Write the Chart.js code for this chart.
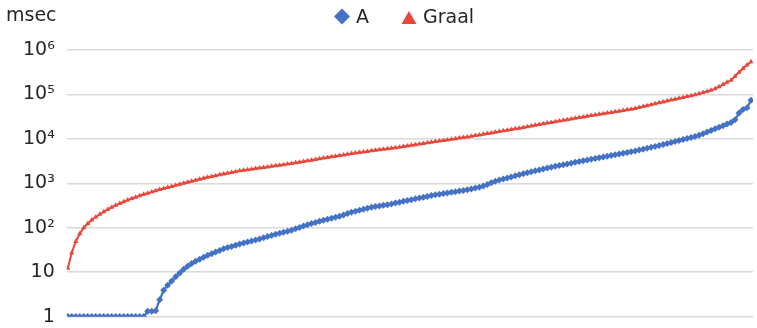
<!DOCTYPE html>
<html>
<head>
<meta charset="utf-8">
<script src="https://cdn.jsdelivr.net/npm/chart.js@4/dist/chart.umd.min.js"></script>
<style>
  html, body { margin: 0; padding: 0; background: #ffffff; }
  #wrap { width: 757px; height: 328px; position: relative; }
</style>
</head>
<body>
<div id="wrap"><canvas id="c" width="757" height="328"></canvas></div>
<script>
// Run index (sorted benchmark runs), one point per run
const runs = Array.from({ length: 172 }, (_, i) => i);

// Execution time in msec, series "A"
const seriesA = [
  1, 1, 1, 1, 1, 1, 1, 1, 1, 1,
  1, 1, 1, 1, 1, 1, 1, 1, 1, 1,
  1.32, 1.32, 1.35, 2.4, 3.9, 5.1, 6.3, 7.9, 9.6, 11.7,
  13.6, 15.6, 17.7, 19.6, 21.7, 23.9, 26.1, 28.4, 30.9, 33.7,
  35.8, 38.0, 40.6, 43.1, 45.4, 47.6, 50.1, 52.7, 55.8, 59.4,
  63.1, 67.0, 71.0, 74.8, 78.7, 83.0, 88.1, 94.6, 101, 109,
  116, 124, 132, 140, 148, 156, 163, 172, 182, 194,
  208, 222, 236, 248, 261, 274, 288, 299, 308, 319,
  330, 344, 360, 376, 393, 410, 429, 448, 468, 487,
  507, 528, 552, 570, 587, 605, 625, 646, 667, 690,
  713, 743, 780, 820, 867, 942, 1023, 1112, 1180, 1247,
  1318, 1393, 1476, 1563, 1644, 1726, 1815, 1905, 2000, 2099,
  2208, 2312, 2410, 2512, 2618, 2729, 2844, 2965, 3090, 3221,
  3350, 3483, 3622, 3767, 3908, 4064, 4227, 4406, 4571, 4753,
  4943, 5140, 5346, 5610, 5875, 6152, 6457, 6761, 7096, 7430,
  7834, 8241, 8690, 9162, 9661, 10190, 10740, 11300, 12020, 13090,
  14220, 15450, 16790, 18240, 19860, 21580, 23440, 26920, 38020, 45710,
  50120, 74130
];

// Execution time in msec, series "Graal"
const seriesGraal = [
  12.3, 27.4, 49.0, 73.5, 99.3, 124, 150, 174, 200, 229,
  258, 290, 320, 351, 385, 420, 453, 488, 526, 565,
  601, 640, 681, 723, 764, 807, 851, 899, 948, 998,
  1052, 1109, 1169, 1230, 1297, 1365, 1422, 1486, 1549, 1614,
  1683, 1754, 1828, 1905, 1968, 2023, 2084, 2143, 2208, 2270,
  2339, 2404, 2477, 2553, 2624, 2704, 2786, 2884, 2985, 3097,
  3206, 3319, 3436, 3565, 3690, 3811, 3945, 4074, 4207, 4355,
  4498, 4656, 4808, 4943, 5082, 5224, 5370, 5521, 5675, 5834,
  5998, 6166, 6339, 6516, 6699, 6918, 7145, 7379, 7621, 7870,
  8128, 8395, 8670, 8933, 9204, 9484, 9772, 10090, 10400, 10740,
  11070, 11430, 11830, 12270, 12710, 13150, 13610, 14130, 14620, 15140,
  15700, 16260, 16830, 17420, 18110, 18790, 19500, 20230, 21040, 21830,
  22650, 23500, 24380, 25240, 26120, 27100, 28050, 29110, 30130, 31190,
  32280, 33420, 34510, 35650, 36900, 38110, 39360, 40740, 42070, 43550,
  44980, 46450, 48310, 50820, 53330, 55980, 58750, 61520, 64710, 67920,
  71120, 74470, 77980, 81660, 85510, 89540, 93760, 98170, 103000, 109900,
  117000, 124500, 133400, 149300, 167100, 187100, 208900, 257000, 316200, 382800,
  459200, 545800
];

// Y axis: decade ticks and their labels
const yTicks = [1, 10, 100, 1000, 10000, 100000, 1000000];
const yTickLabels = ['1', '10', '10²', '10³', '10⁴', '10⁵', '10⁶'];
const unitLabel = 'msec';

const BLUE = '#4472C4';
const RED = '#E8473B';
const TEXT = '#262626';
const FONT = '"DejaVu Sans", Verdana, sans-serif';

// Unit caption and a centred legend row drawn on the canvas
const headerPlugin = {
  id: 'header',
  afterDraw(chart) {
    const ctx = chart.ctx;
    ctx.save();
    ctx.font = '19px ' + FONT;
    ctx.fillStyle = TEXT;
    ctx.textBaseline = 'alphabetic';
    ctx.textAlign = 'left';
    ctx.fillText(unitLabel, 6, 21);

    let x = 334;
    const cy = 16.5;
    chart.data.datasets.forEach(ds => {
      const cx = x + 8;
      ctx.fillStyle = ds.backgroundColor;
      ctx.beginPath();
      if (ds.pointStyle === 'triangle') {
        ctx.moveTo(cx, cy - 5.5);
        ctx.lineTo(cx + 7.5, cy + 7.5);
        ctx.lineTo(cx - 7.5, cy + 7.5);
      } else {
        ctx.moveTo(cx, cy - 8);
        ctx.lineTo(cx + 8, cy);
        ctx.lineTo(cx, cy + 8);
        ctx.lineTo(cx - 8, cy);
      }
      ctx.closePath();
      ctx.fill();
      ctx.fillStyle = TEXT;
      ctx.fillText(ds.label, x + 22, 23);
      x += 22 + ctx.measureText(ds.label).width + 32;
    });
    ctx.restore();
  }
};

const toPoints = arr => arr.map((v, i) => ({ x: runs[i], y: v }));

new Chart(document.getElementById('c'), {
  type: 'line',
  data: {
    datasets: [
      {
        label: 'A',
        data: toPoints(seriesA),
        borderColor: BLUE,
        backgroundColor: BLUE,
        borderWidth: 2.25,
        pointStyle: 'rectRot',
        pointRadius: 3.5,
        pointBorderWidth: 0,
        pointBackgroundColor: BLUE,
        tension: 0
      },
      {
        label: 'Graal',
        data: toPoints(seriesGraal),
        borderColor: RED,
        backgroundColor: RED,
        borderWidth: 2,
        pointStyle: 'triangle',
        pointRadius: 3,
        pointBorderWidth: 0,
        pointBackgroundColor: RED,
        tension: 0
      }
    ]
  },
  options: {
    responsive: false,
    animation: false,
    devicePixelRatio: 1,
    layout: { padding: { top: 50, bottom: 0, left: 23, right: 0 } },
    plugins: {
      legend: { display: false },
      tooltip: { enabled: false }
    },
    scales: {
      x: {
        type: 'linear',
        display: false,
        min: -0.25,
        max: 171.5
      },
      y: {
        type: 'logarithmic',
        min: 1,
        max: 1000000,
        afterBuildTicks: scale => {
          scale.ticks = yTicks.map(v => ({ value: v }));
        },
        border: { display: false },
        grid: {
          color: '#d9d9d9',
          lineWidth: 1.5,
          drawTicks: true,
          tickLength: 12,
          tickColor: 'rgba(0,0,0,0)'
        },
        ticks: {
          autoSkip: false,
          padding: 0,
          color: TEXT,
          font: { family: FONT, size: 19 },
          callback: (v, i) => yTickLabels[i]
        }
      }
    }
  },
  plugins: [headerPlugin]
});
</script>
</body>
</html>
